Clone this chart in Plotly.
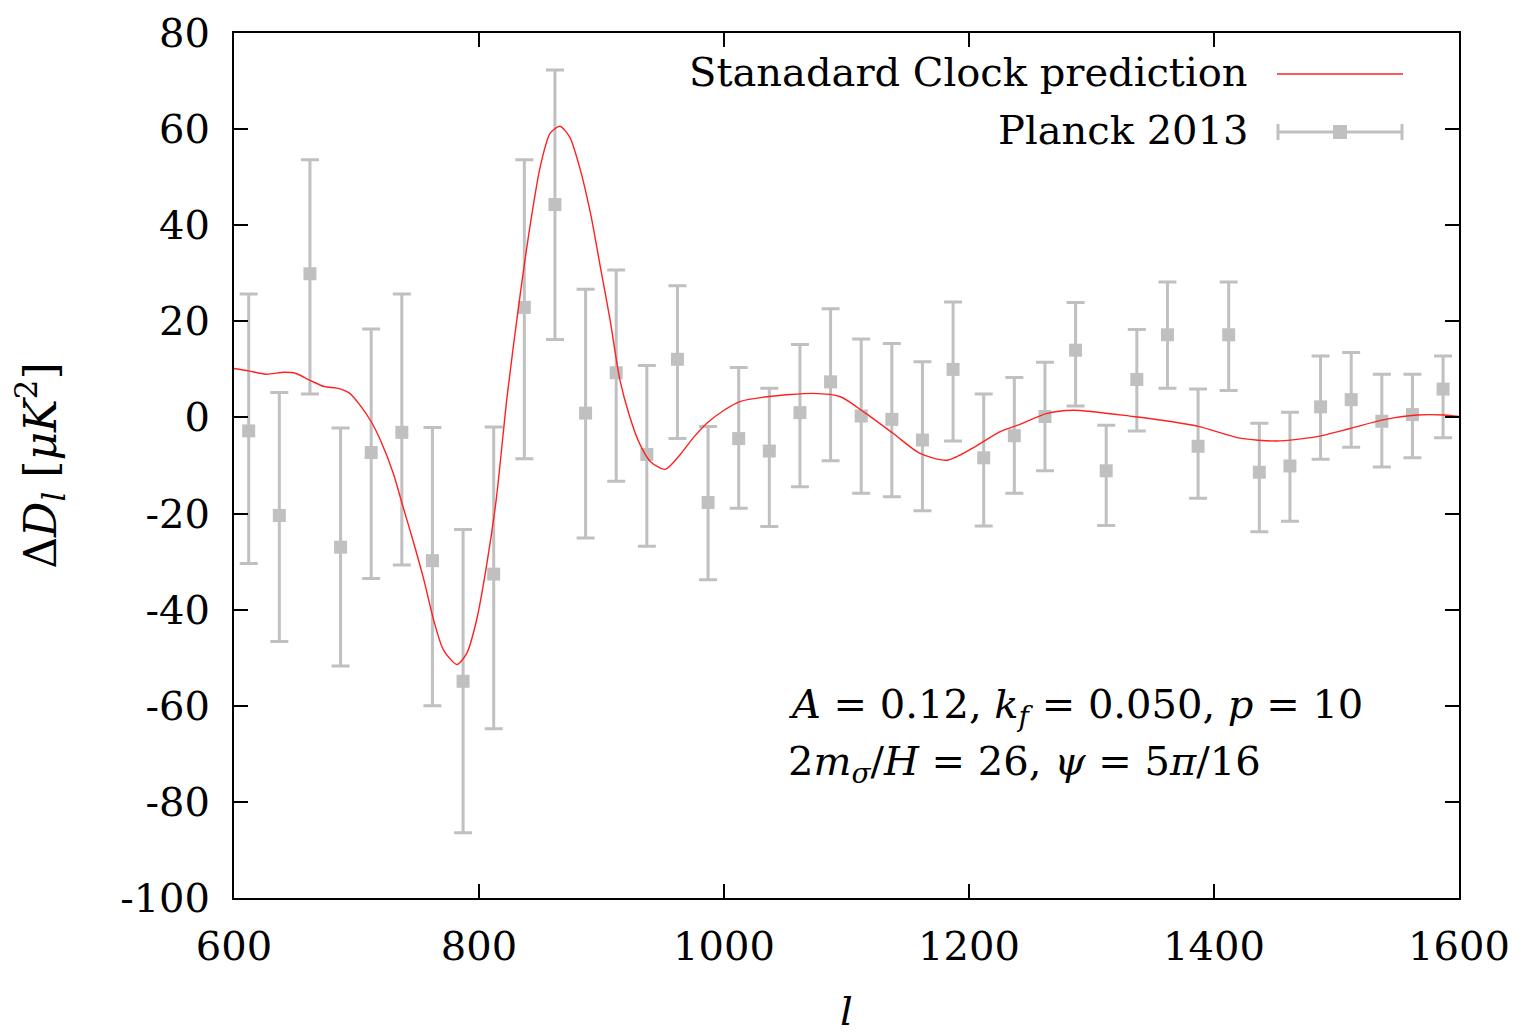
import plotly.graph_objects as go

# Planck 2013 binned residuals
ell = [612 + 25 * i for i in range(40)]
delta_D = [-2.8, -20.4, 29.9, -27.0, -7.3, -3.1, -29.8, -54.9, -32.6, 22.9,
           44.3, 0.9, 9.3, -7.7, 12.1, -17.7, -4.4, -7.0, 1.0, 7.4,
           0.3, -0.4, -4.7, 10.0, -8.4, -3.8, 0.2, 14.0, -11.1, 7.9,
           17.2, -6.0, 17.2, -11.4, -10.1, 2.2, 3.7, -0.8, 0.6, 5.9]
err_top = [25.7, 5.2, 53.6, -2.2, 18.4, 25.7, -2.1, -23.3, -2.0, 53.6,
           72.3, 26.7, 30.7, 10.8, 27.4, -1.9, 10.4, 6.1, 15.2, 22.6,
           16.3, 15.4, 11.6, 24.0, 4.9, 8.3, 11.5, 23.9, -1.6, 18.3,
           28.2, 5.9, 28.2, -1.2, 1.1, 12.8, 13.5, 9.0, 9.0, 12.8]
err_bottom = [-30.4, -46.6, 4.9, -51.7, -33.5, -30.7, -60.0, -86.4, -64.8, -8.6,
              16.2, -25.1, -13.3, -26.8, -4.4, -33.8, -18.9, -22.7, -14.4, -9.0,
              -15.8, -16.5, -19.4, -4.9, -22.6, -15.8, -11.1, 2.4, -22.5, -2.8,
              6.1, -16.8, 5.6, -23.8, -21.6, -8.7, -6.2, -10.3, -8.4, -4.2]

# Standard Clock prediction curve
curve_l = [600, 612, 626, 641, 650, 663, 674, 684, 694, 703, 712, 720, 730, 738,
           746, 755, 763, 771, 782, 790, 798, 806, 814, 823, 833, 842, 850, 858,
           866, 874, 882, 891, 899, 907, 915, 923, 931, 940, 952, 964, 975, 986,
           1000, 1013, 1035, 1073, 1095, 1116, 1138, 1160, 1182, 1203, 1225,
           1241, 1263, 1285, 1334, 1366, 1388, 1421, 1451, 1484, 1511, 1538,
           1566, 1588, 1600]
curve_D = [10.2, 9.7, 9.0, 9.4, 9.2, 7.6, 6.4, 6.1, 5.1, 2.5, -0.9, -5.0, -11.6,
           -18.6, -25.5, -33.8, -42.2, -48.4, -51.4, -49.1, -42.2, -31.1, -17.2,
           4.5, 24.4, 40.4, 52.2, 59.1, 60.6, 58.4, 52.2, 42.5, 31.4, 20.3, 7.8,
           0.2, -5.4, -9.2, -10.8, -7.8, -4.2, -1.2, 1.5, 3.3, 4.3, 5.0, 4.3,
           0.8, -3.3, -7.5, -8.9, -6.4, -3.0, -1.5, 0.8, 1.5, 0.2, -0.9, -1.9,
           -4.3, -4.9, -4.0, -2.3, -0.5, 0.5, 0.5, 0.2]

x_ticks = [600, 800, 1000, 1200, 1400, 1600]
y_ticks = [80, 60, 40, 20, 0, -20, -40, -60, -80, -100]

GRAY = "#c0c0c0"
RED = "#ff2020"
FONT = "DejaVu Serif"
FS = 40

plus = [t - c for t, c in zip(err_top, delta_D)]
minus = [c - b for b, c in zip(err_bottom, delta_D)]

fig = go.Figure()
fig.add_trace(go.Scatter(
    x=ell, y=delta_D, mode="markers", name="Planck 2013",
    marker=dict(symbol="square", size=13, color=GRAY),
    error_y=dict(type="data", symmetric=False, array=plus, arrayminus=minus,
                 color=GRAY, thickness=3, width=9),
    showlegend=False,
))
fig.add_trace(go.Scatter(
    x=curve_l, y=curve_D, mode="lines", name="Stanadard Clock prediction",
    line=dict(color=RED, width=1.4, shape="spline", smoothing=0.7),
    showlegend=False,
))

W, H = 1519, 1034
L, R, T, B = 234, 60, 33, 136
pw, ph = W - L - R, H - T - B


def px(xp):
    return (xp - L) / pw


def py(yp):
    return (H - B - yp) / ph


shapes = [
    dict(type="line", xref="paper", yref="paper", x0=px(1277), x1=px(1403),
         y0=py(74), y1=py(74), line=dict(color=RED, width=1.4)),
    dict(type="line", xref="paper", yref="paper", x0=px(1277), x1=px(1403),
         y0=py(132), y1=py(132), line=dict(color=GRAY, width=3)),
    dict(type="line", xref="paper", yref="paper", x0=px(1278), x1=px(1278),
         y0=py(124), y1=py(140), line=dict(color=GRAY, width=3)),
    dict(type="line", xref="paper", yref="paper", x0=px(1402), x1=px(1402),
         y0=py(124), y1=py(140), line=dict(color=GRAY, width=3)),
    dict(type="rect", xref="paper", yref="paper", x0=px(1333), x1=px(1347),
         y0=py(125), y1=py(139), line=dict(width=0), fillcolor=GRAY),
]

annotations = [
    dict(text="Stanadard Clock prediction", xref="paper", yref="paper",
         x=px(1250), y=py(72), xanchor="right", yanchor="middle", showarrow=False,
         font=dict(family=FONT, size=FS, color="black")),
    dict(text="Planck 2013", xref="paper", yref="paper",
         x=px(1250), y=py(130), xanchor="right", yanchor="middle", showarrow=False,
         font=dict(family=FONT, size=FS, color="black")),
    dict(text="<i>A</i> = 0.12, <i>k<sub>f</sub></i> = 0.050, <i>p</i> = 10",
         xref="paper", yref="paper", x=px(786), y=py(707), xanchor="left",
         yanchor="middle", showarrow=False,
         font=dict(family=FONT, size=FS, color="black")),
    dict(text="2<i>m<sub>σ</sub></i>/<i>H</i> = 26, <i>ψ</i> = 5<i>π</i>/16",
         xref="paper", yref="paper", x=px(786), y=py(764), xanchor="left",
         yanchor="middle", showarrow=False,
         font=dict(family=FONT, size=FS, color="black")),
]

axis_common = dict(
    showline=True, linecolor="black", linewidth=2, mirror="ticks",
    ticks="inside", ticklen=14, tickwidth=2, tickcolor="black",
    showgrid=False, zeroline=False, automargin=False,
    tickfont=dict(family=FONT, size=FS, color="black"),
)

fig.update_layout(
    width=W, height=H,
    margin=dict(l=L, r=R, t=T, b=B),
    paper_bgcolor="white", plot_bgcolor="white",
    xaxis=dict(range=[600, 1600], tickvals=x_ticks,
               ticktext=[str(v) for v in x_ticks], ticklabelstandoff=12,
               title=dict(text="<i>l</i>", standoff=36,
                          font=dict(family=FONT, size=FS, color="black")),
               **axis_common),
    yaxis=dict(range=[-100, 80], tickvals=y_ticks,
               ticktext=[str(v) for v in y_ticks], ticklabelstandoff=14,
               title=dict(text="Δ<i>D<sub>l</sub></i> [<i>μK</i><sup>2</sup>]",
                          standoff=50,
                          font=dict(family=FONT, size=44, color="black")),
               **axis_common),
    shapes=shapes,
    annotations=annotations,
    showlegend=False,
)

fig.write_html("out.html")
